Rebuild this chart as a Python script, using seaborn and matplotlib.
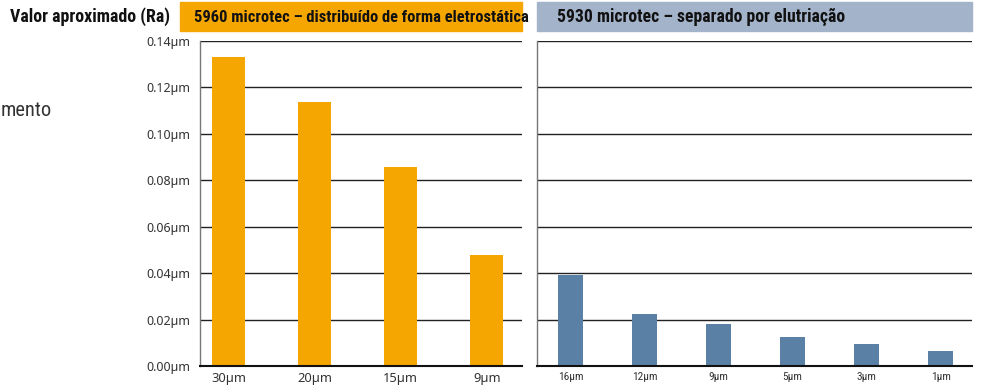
import matplotlib
matplotlib.use("Agg")
import matplotlib.pyplot as plt
import matplotlib.font_manager as fm
import seaborn as sns
import pandas as pd
from matplotlib.patches import Rectangle

sns.set_style("white")
plt.rcParams['font.family'] = ['Noto Sans', 'DejaVu Sans']

# data
left_cats = ["30µm", "20µm", "15µm", "9µm"]
left_vals = [0.1332, 0.1138, 0.0858, 0.0478]
right_cats = ["16µm", "12µm", "9µm", "5µm", "3µm", "1µm"]
right_vals = [0.0393, 0.0223, 0.0179, 0.0127, 0.0096, 0.0066]
y_ticks = [0.00, 0.02, 0.04, 0.06, 0.08, 0.10, 0.12, 0.14]
y_labels = ["0.00µm", "0.02µm", "0.04µm", "0.06µm", "0.08µm", "0.10µm", "0.12µm", "0.14µm"]
title_main = "Valor aproximado (Ra)"
title_left = "5960 microtec – distribuído de forma eletrostática"
title_right = "5930 microtec – separado por elutriação"
side_text = "mento"

ORANGE = "#F5A600"
BLUE_BAR = "#5B80A5"
BLUE_HEAD = "#A3B3C9"

# pick a condensed family
entries = {}
for f in fm.fontManager.ttflist:
    entries.setdefault(f.name, set()).add(f.weight if isinstance(f.weight, int) else 400)
cands = ['Roboto Condensed', 'Fira Sans Condensed', 'Open Sans Condensed', 'Asap Condensed',
         'Barlow Semi Condensed', 'PT Sans Narrow', 'IBM Plex Sans Condensed',
         'Encode Sans Condensed', 'Sofia Sans Condensed', 'Saira SemiCondensed', 'Liberation Sans']
avail = [c for c in cands if c in entries]
COND = avail[0] if avail else 'DejaVu Sans'
COND_B = next((c for c in avail if max(entries[c]) >= 600), COND)
condL = [COND, 'DejaVu Sans']
condB = [COND_B, 'DejaVu Sans']

W, H = 981, 385
fig = plt.figure(figsize=(W / 100, H / 100), dpi=100)
renderer = fig.canvas.get_renderer()


def fit(txt, target_px):
    fs = txt.get_fontsize()
    w = txt.get_window_extent(renderer).width
    if w > 0:
        txt.set_fontsize(fs * target_px / w)


bottom = (H - 366) / H
height = (366 - 41) / H
axL = fig.add_axes([200 / W, bottom, 322 / W, height])
axR = fig.add_axes([537 / W, bottom, 435 / W, height])

dfL = pd.DataFrame({"cat": left_cats, "val": left_vals})
dfR = pd.DataFrame({"cat": right_cats, "val": right_vals})

sns.barplot(data=dfL, x="cat", y="val", color=ORANGE, saturation=1, width=0.385,
            linewidth=0, ax=axL, zorder=3)
sns.barplot(data=dfR, x="cat", y="val", color=BLUE_BAR, saturation=1, width=0.34,
            linewidth=0, ax=axR, zorder=3)

axL.set_xlim(-0.33, 3.41)
axR.set_xlim(-0.45, 5.42)

for ax in (axL, axR):
    ax.set_ylim(0, 0.14)
    ax.set_yticks(y_ticks)
    ax.set_xlabel("")
    ax.set_ylabel("")
    for t in y_ticks[1:]:
        ax.axhline(t, color="#222222", lw=1.0, zorder=1)
    for s in ("top", "right"):
        ax.spines[s].set_visible(False)
    ax.spines["left"].set_color("#777777")
    ax.spines["left"].set_linewidth(1.0)
    ax.spines["bottom"].set_color("#111111")
    ax.spines["bottom"].set_linewidth(1.5)
    ax.spines["bottom"].set_zorder(4)

axL.set_yticklabels(y_labels)
axL.tick_params(axis="y", length=0, pad=7, labelsize=9, labelcolor="#333333")
axL.tick_params(axis="x", length=0, pad=4, labelsize=9.3, labelcolor="#333333")
axR.set_yticklabels([])
axR.tick_params(axis="y", length=0)
axR.tick_params(axis="x", length=0, pad=4, labelsize=8, labelcolor="#333333")
fig.canvas.draw()
for lab in axR.get_xticklabels():
    lab.set_fontfamily(condL)
fig.canvas.draw()
w16 = axR.get_xticklabels()[0].get_window_extent(renderer).width
if w16 > 0:
    for lab in axR.get_xticklabels():
        lab.set_fontsize(8 * 25.6 / w16)

# header boxes
fig.patches.append(Rectangle((180 / W, (H - 31) / H), (522 - 180) / W, 29 / H,
                             transform=fig.transFigure, color=ORANGE, zorder=0))
fig.patches.append(Rectangle((537 / W, (H - 31) / H), (972 - 537) / W, 29 / H,
                             transform=fig.transFigure, color=BLUE_HEAD, zorder=0))

t1 = fig.text(10 / W, (H - 17) / H, title_main, ha="left", va="center", fontsize=10,
              fontweight="bold", family=condB, color="#111111")
t2 = fig.text(194 / W, (H - 17) / H, title_left, ha="left", va="center", fontsize=10,
              fontweight="bold", family=condB, color="#111111")
t3 = fig.text(557 / W, (H - 17) / H, title_right, ha="left", va="center", fontsize=10,
              fontweight="bold", family=condB, color="#111111")
t4 = fig.text(0 / W, (H - 110) / H, side_text, ha="left", va="center", fontsize=12,
              family=condL, color="#333333")
fit(t1, 160)
fit(t2, 334)
fit(t3, 288)
fit(t4, 51)
t4.set_position((1 / W, (H - 110) / H))

fig.savefig("out.png", dpi=100)
